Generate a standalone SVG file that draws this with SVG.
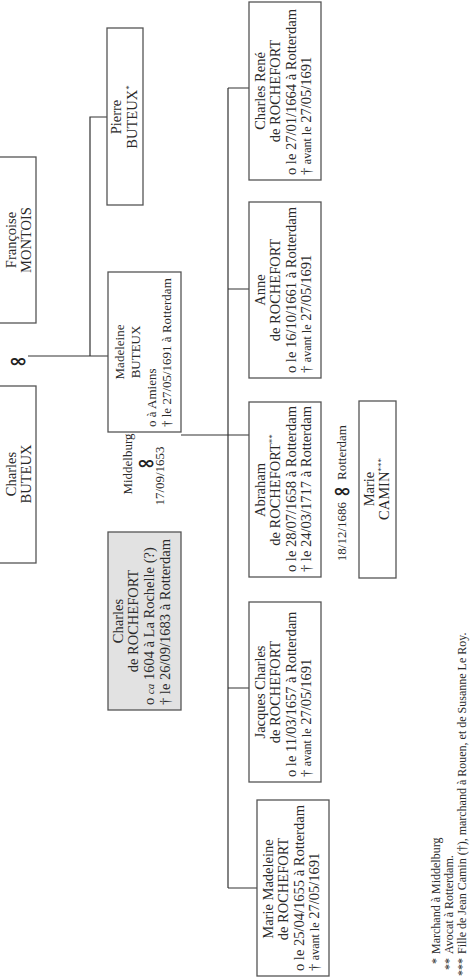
<svg xmlns="http://www.w3.org/2000/svg" width="474" height="978" viewBox="0 0 474 978">
<style>
.box{fill:#fff;stroke:#555;stroke-width:1.3}
.gray{fill:#e2e2e2}
.t{font-family:"Liberation Serif",serif;font-size:14.5px;fill:#2a2a2a}
.m{font-family:"Liberation Serif",serif;font-size:13px;fill:#2a2a2a}
.f{font-family:"Liberation Serif",serif;font-size:12px;fill:#2a2a2a}
.c{text-anchor:middle}
.e{text-anchor:end}
.inf{font-family:"DejaVu Sans",sans-serif;font-size:18px;font-weight:bold;fill:#222;text-anchor:middle}
.conn{stroke:#333;stroke-width:1.2;fill:none}
</style>
<rect width="474" height="978" fill="#fff"/>
<g id="connectors">
<path class="conn" d="M28 356 H108 M90 356 V117 H107"/>
<path class="conn" d="M181 435 H249 M228 88 V888 M228 88 H249 M228 289 H249 M228 688 H249 M228 888 H257"/>
</g>
<g id="francoise">
<rect class="box" x="-1" y="157" width="37" height="166"/>
<text class="t c" transform="translate(16,240) rotate(-90)">Françoise</text>
<text class="t c" transform="translate(31,240) rotate(-90)">MONTOIS</text>
</g>
<g id="charles-buteux">
<rect class="box" x="-1" y="386" width="37" height="177"/>
<text class="t c" transform="translate(16,474) rotate(-90)">Charles</text>
<text class="t c" transform="translate(31,474) rotate(-90)">BUTEUX</text>
</g>
<g id="marriage1">
<text class="inf" transform="translate(18,367) scale(1.25,1)">∞</text>
</g>
<g id="pierre">
<rect class="box" x="107" y="28" width="36" height="177"/>
<text class="t c" transform="translate(121,117) rotate(-90)">Pierre</text>
<text class="t c" transform="translate(137,117) rotate(-90)">BUTEUX<tspan font-size="9" dy="-5">*</tspan></text>
</g>
<g id="madeleine">
<rect class="box" x="108" y="272" width="73" height="160"/>
<text class="m c" transform="translate(124,352) rotate(-90)">Madeleine</text>
<text class="m c" transform="translate(140,352) rotate(-90)">BUTEUX</text>
<text class="m" transform="translate(156,427) rotate(-90)">o à Amiens</text>
<text class="m" transform="translate(171,427) rotate(-90)">† le 27/05/1691 à Rotterdam</text>
</g>
<g id="marriage2">
<text class="m c" transform="translate(132,464) rotate(-90)">Middelburg</text>
<text class="inf" transform="translate(146,469) scale(1.25,1)">∞</text>
<text class="m c" transform="translate(164,476) rotate(-90)">17/09/1653</text>
</g>
<g id="charles-rochefort">
<rect class="box gray" x="108" y="532" width="73" height="178"/>
<text class="t c" transform="translate(123,621) rotate(-90)">Charles</text>
<text class="t c" transform="translate(138,621) rotate(-90)">de ROCHEFORT</text>
<text class="t" transform="translate(154,705) rotate(-90)">o <tspan font-style="italic" font-size="11">ca</tspan> 1604 à La Rochelle (?)</text>
<text class="t" transform="translate(170,705) rotate(-90)">† le 26/09/1683 à Rotterdam</text>
</g>
<g id="charles-rene">
<rect class="box" x="249" y="2" width="72" height="178"/>
<text class="t c" transform="translate(265,91) rotate(-90)">Charles René</text>
<text class="t c" transform="translate(280,91) rotate(-90)">de ROCHEFORT</text>
<text class="t" transform="translate(296,175) rotate(-90)">o le 27/01/1664 à Rotterdam</text>
<text class="t" transform="translate(311,175) rotate(-90)">† <tspan font-size="12">avant le</tspan> 27/05/1691</text>
</g>
<g id="anne">
<rect class="box" x="249" y="202" width="72" height="176"/>
<text class="t c" transform="translate(265,290) rotate(-90)">Anne</text>
<text class="t c" transform="translate(280,290) rotate(-90)">de ROCHEFORT</text>
<text class="t" transform="translate(296,373) rotate(-90)">o le 16/10/1661 à Rotterdam</text>
<text class="t" transform="translate(311,373) rotate(-90)">† <tspan font-size="12">avant le</tspan> 27/05/1691</text>
</g>
<g id="abraham">
<rect class="box" x="249" y="402" width="72" height="175"/>
<text class="t c" transform="translate(265,490) rotate(-90)">Abraham</text>
<text class="t c" transform="translate(280,490) rotate(-90)">de ROCHEFORT<tspan font-size="9" dy="-5">**</tspan></text>
<text class="t" transform="translate(296,572) rotate(-90)">o le 28/07/1658 à Rotterdam</text>
<text class="t" transform="translate(311,572) rotate(-90)">† le 24/03/1717 à Rotterdam</text>
</g>
<g id="jacques">
<rect class="box" x="249" y="602" width="72" height="180"/>
<text class="t c" transform="translate(265,692) rotate(-90)">Jacques Charles</text>
<text class="t c" transform="translate(280,692) rotate(-90)">de ROCHEFORT</text>
<text class="t" transform="translate(296,777) rotate(-90)">o le 11/03/1657 à Rotterdam</text>
<text class="t" transform="translate(311,777) rotate(-90)">† <tspan font-size="12">avant le</tspan> 27/05/1691</text>
</g>
<g id="marie-madeleine">
<rect class="box" x="257" y="800" width="72" height="176"/>
<text class="t c" transform="translate(273,889) rotate(-90)">Marie Madeleine</text>
<text class="t c" transform="translate(288,889) rotate(-90)">de ROCHEFORT</text>
<text class="t" transform="translate(304,971) rotate(-90)">o le 25/04/1655 à Rotterdam</text>
<text class="t" transform="translate(319,971) rotate(-90)">† <tspan font-size="12">avant le</tspan> 27/05/1691</text>
</g>
<g id="marriage3">
<text class="m e" transform="translate(346,502) rotate(-90)">18/12/1686</text>
<text class="inf" transform="translate(342,497) scale(1.25,1)">∞</text>
<text class="m" transform="translate(346,480) rotate(-90)">Rotterdam</text>
</g>
<g id="marie-camin">
<rect class="box" x="359" y="401" width="37" height="177"/>
<text class="t c" transform="translate(374,489) rotate(-90)">Marie</text>
<text class="t c" transform="translate(389,489) rotate(-90)">CAMIN<tspan font-size="9" dy="-5">***</tspan></text>
</g>
<g id="notes">
<text class="f e" transform="translate(440,958) rotate(-90)">*</text>
<text class="f" transform="translate(440,954) rotate(-90)">Marchand à Middelburg</text>
<text class="f e" transform="translate(453,958) rotate(-90)">**</text>
<text class="f" transform="translate(453,954) rotate(-90)">Avocat à Rotterdam.</text>
<text class="f e" transform="translate(466,958) rotate(-90)">***</text>
<text class="f" transform="translate(466,954) rotate(-90)">Fille de Jean Camin (†), marchand à Rouen, et de Susanne Le Roy.</text>
</g>
</svg>
